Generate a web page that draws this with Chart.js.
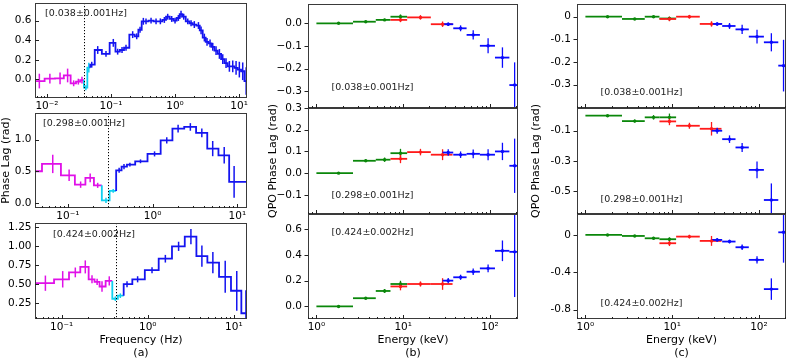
<!DOCTYPE html>
<html>
<head>
<meta charset="utf-8">
<script src="https://cdn.jsdelivr.net/npm/chart.js@4.4.1/dist/chart.umd.min.js"></script>
<style>
html,body{margin:0;padding:0;background:#fff;}
#wrap{position:relative;width:789px;height:360px;overflow:hidden;background:#fff;}
#wrap canvas{position:absolute;left:0;top:0;}
</style>
</head>
<body>
<div id="wrap"></div>
<script>
// ================= DATA =================
// ---- (a) phase lag vs frequency; split = [n magenta, n cyan], rest blue ----
const A1_QPO = 0.038;
const A1_NOTE = '[0.038±0.001Hz]';
const A1_freq = [0.0076,0.0111,0.0160,0.0210,0.0261,0.0309,0.0352,
  0.0405,0.0450,
  0.050,0.0620,0.0835,0.1086,0.127,0.1486,0.1715,0.218,0.252,0.284,0.32,0.352,0.422,0.505,0.590,0.681,0.768,0.887,1.0,1.127,
  1.24,1.366,1.58,1.78,2.0,2.32,2.55,2.87,3.16,3.52,3.88,4.37,4.93,5.56,6.26,7.06,7.96,8.98,10.1,11.4,12.9];
const A1_lag = [-0.017,0.007,0.01,0.04,-0.04,-0.023,-0.007,
  -0.085,0.12,
  0.15,0.30,0.26,0.373,0.283,0.30,0.323,0.457,0.44,0.507,0.593,0.593,0.60,0.593,0.593,0.607,0.64,0.617,0.60,0.627,
  0.667,0.64,0.593,0.573,0.56,0.55,0.50,0.427,0.383,0.367,0.333,0.293,0.26,0.207,0.167,0.133,0.133,0.117,0.10,0.083,-0.017];
const A1_err = [0.075,0.05,0.06,0.07,0.03,0.03,0.035,
  0.025,0.05,
  0.03,0.04,0.03,0.04,0.03,0.03,0.03,0.035,0.03,0.03,0.035,0.03,0.03,0.03,0.03,0.03,0.03,0.03,0.03,0.03,
  0.035,0.03,0.03,0.03,0.035,0.035,0.04,0.04,0.04,0.04,0.04,0.045,0.05,0.05,0.05,0.055,0.06,0.07,0.08,0.09,0.14];
const A1_split = [7, 2];

const A2_QPO = 0.298;
const A2_NOTE = '[0.298±0.001Hz]';
const A2_freq = [0.037,0.0664,0.1036,0.1416,0.1836,0.225, 0.282,0.343,
  0.403,0.46,0.54,0.72,1.055,1.47,2.0,2.79,3.81,5.12,7.0,9.16];
const A2_lag = [0.50,0.616,0.436,0.289,0.395,0.278, 0.04,0.19,
  0.515,0.573,0.605,0.657,0.774,0.989,1.174,1.20,1.106,0.858,0.752,0.332];
const A2_err = [0.03,0.145,0.09,0.05,0.07,0.04, 0.04,0.03,
  0.04,0.04,0.03,0.03,0.04,0.05,0.06,0.06,0.07,0.12,0.13,0.25];
const A2_split = [6, 2];

const A3_QPO = 0.424;
const A3_NOTE = '[0.424±0.002Hz]';
const A3_freq = [0.0647,0.1028,0.144,0.188,0.225,0.258,0.294,0.357, 0.42,0.48,
  0.574,0.762,1.12,1.60,2.28,3.17,4.25,5.70,7.93,10.8,13.8];
const A3_lag = [0.513,0.564,0.654,0.726,0.564,0.53,0.47,0.543, 0.31,0.35,
  0.50,0.564,0.683,0.833,0.995,1.123,0.867,0.782,0.597,0.414,0.12];
const A3_err = [0.10,0.107,0.064,0.085,0.053,0.04,0.07,0.06, 0.03,0.03,
  0.04,0.04,0.04,0.05,0.06,0.10,0.14,0.14,0.21,0.26,0.30];
const A3_split = [8, 2];

// ---- energy bins (keV) for (b) and (c) ----
const E_G = [1.8, 3.7, 6.1, 9.3];
const E_G_LO = [1.0, 2.64, 4.83, 7.13];
const E_G_HI = [2.64, 4.83, 7.13, 11.1];
const E_R = [9.3, 15.8, 28.4];
const E_R_LO = [7.13, 11.1, 20.8];
const E_R_HI = [11.1, 20.8, 37.0];
const E_B = [33, 45.8, 64, 95, 139, 192];
const E_B_LO = [28.4, 37.7, 53.7, 76.4, 114, 167];
const E_B_HI = [37.7, 53.7, 76.4, 114, 167, 230];

// ---- (b) QPO phase lag vs energy ----
const B1_G = [0.0, 0.007, 0.015, 0.029];     const B1_G_ERR = [0.003, 0.004, 0.005, 0.01];
const B1_R = [0.015, 0.026, -0.004];         const B1_R_ERR = [0.01, 0.01, 0.012];
const B1_B = [-0.004, -0.022, -0.051, -0.099, -0.151, -0.272]; const B1_B_ERR = [0.008, 0.013, 0.02, 0.033, 0.045, 0.1];
const B2_G = [0.0, 0.057, 0.062, 0.092];     const B2_G_ERR = [0.002, 0.006, 0.01, 0.02];
const B2_R = [0.066, 0.097, 0.085];          const B2_R_ERR = [0.02, 0.015, 0.025];
const B2_B = [0.095, 0.085, 0.089, 0.085, 0.10, 0.034]; const B2_B_ERR = [0.015, 0.015, 0.02, 0.025, 0.04, 0.125];
const B3_G = [0.0, 0.064, 0.12, 0.174];      const B3_G_ERR = [0.003, 0.008, 0.015, 0.025];
const B3_R = [0.155, 0.174, 0.174];          const B3_R_ERR = [0.03, 0.02, 0.045];
const B3_B = [0.20, 0.226, 0.269, 0.295, 0.431, 0.423]; const B3_B_ERR = [0.02, 0.02, 0.025, 0.03, 0.08, 0.35];

// ---- (c) QPO phase lag vs energy ----
const C1_G = [0.0, -0.010, 0.0, -0.008];     const C1_G_ERR = [0.002, 0.004, 0.005, 0.008];
const C1_R = [-0.010, 0.0, -0.032];          const C1_R_ERR = [0.01, 0.008, 0.012];
const C1_B = [-0.032, -0.041, -0.056, -0.088, -0.113, -0.216]; const C1_B_ERR = [0.008, 0.013, 0.02, 0.03, 0.04, 0.114];
const C2_G = [0.0, -0.036, -0.011, -0.011];  const C2_G_ERR = [0.003, 0.01, 0.015, 0.025];
const C2_R = [-0.038, -0.067, -0.087];       const C2_R_ERR = [0.025, 0.02, 0.045];
const C2_B = [-0.10, -0.156, -0.211, -0.36, -0.56]; const C2_B_ERR = [0.02, 0.025, 0.03, 0.055, 0.11];
const C3_G = [0.0, -0.011, -0.036, -0.046];  const C3_G_ERR = [0.003, 0.01, 0.015, 0.02];
const C3_R = [-0.089, -0.018, -0.064];       const C3_R_ERR = [0.03, 0.02, 0.053];
const C3_B = [-0.053, -0.071, -0.132, -0.267, -0.58, 0.028]; const C3_B_ERR = [0.02, 0.02, 0.03, 0.04, 0.115, 0.325];

// ---- tick values and labels ----
const A1_XT = [0.01, 0.1, 1, 10];  const A1_XL = ['10⁻²', '10⁻¹', '10⁰', '10¹'];
const A23_XT = [0.1, 1, 10];       const A23_XL = ['10⁻¹', '10⁰', '10¹'];
const E_XT = [1, 10, 100];         const E_XL = ['10⁰', '10¹', '10²'];
const A1_YT = [0, 0.2, 0.4, 0.6];  const A1_YL = ['0.0', '0.2', '0.4', '0.6'];
const A2_YT = [0, 0.5, 1.0];       const A2_YL = ['0.0', '0.5', '1.0'];
const A3_YT = [0.25, 0.5, 0.75, 1.0, 1.25]; const A3_YL = ['0.25', '0.50', '0.75', '1.00', '1.25'];
const B1_YT = [-0.3, -0.2, -0.1, 0]; const B1_YL = ['−0.3', '−0.2', '−0.1', '0.0'];
const B2_YT = [-0.1, 0, 0.1, 0.2, 0.3]; const B2_YL = ['−0.1', '0.0', '0.1', '0.2', '0.3'];
const B3_YT = [0, 0.2, 0.4, 0.6];  const B3_YL = ['0.0', '0.2', '0.4', '0.6'];
const C1_YT = [-0.3, -0.2, -0.1, 0]; const C1_YL = ['-0.3', '-0.2', '-0.1', '0'];
const C2_YT = [-0.5, -0.3, -0.1];  const C2_YL = ['-0.5', '-0.3', '-0.1'];
const C3_YT = [-0.8, -0.4, 0];     const C3_YL = ['-0.8', '-0.4', '0'];

// ================= RENDERING =================
Chart.defaults.font.family = "'DejaVu Sans', sans-serif";
Chart.defaults.font.size = 10.5;
Chart.defaults.color = '#000';

const W = 789, H = 360;
const STEP_COLORS = ['#e010e8', '#10d0f0', '#1414f0'];
const COL_G = '#0a870a', COL_R = '#ff1a1a', COL_B = '#0a0aff';

function stepSets(freq, lag, err, split, xmin, xmax) {
  const n = freq.length;
  const e = [xmin];
  for (let i = 1; i < n; i++) e.push(Math.sqrt(freq[i - 1] * freq[i]));
  e.push(xmax);
  const b = [0, split[0], split[0] + split[1], n];
  const sets = [];
  for (let g = 0; g < 3; g++) {
    const s = b[g], t = b[g + 1];
    if (t <= s) continue;
    const pts = [];
    if (s > 0) pts.push({x: e[s], y: lag[s - 1]});
    for (let i = s; i < t; i++) { pts.push({x: e[i], y: lag[i]}); pts.push({x: e[i + 1], y: lag[i]}); }
    sets.push({type: 'line', data: pts, borderColor: STEP_COLORS[g], borderWidth: 1.8, pointRadius: 0,
      tension: 0, fill: false, order: 3 - g,
      eb: {x: freq.slice(s, t), y: lag.slice(s, t), e: err.slice(s, t), c: STEP_COLORS[g]}});
  }
  return sets;
}

function energySet(E, lo, hi, lag, err, color, order) {
  const n = lag.length;
  return {type: 'scatter', data: lag.map((v, i) => ({x: E[i], y: v})), order,
    pointRadius: 1.7, pointBackgroundColor: color, pointBorderColor: color, pointBorderWidth: 0, showLine: false,
    eb: {x: E.slice(0, n), lo: lo.slice(0, n), hi: hi.slice(0, n), y: lag, e: err, c: color}};
}
function energySets(g, ge, r, re, bl, be) {
  return [energySet(E_G, E_G_LO, E_G_HI, g, ge, COL_G, 3),
          energySet(E_R, E_R_LO, E_R_HI, r, re, COL_R, 2),
          energySet(E_B, E_B_LO, E_B_HI, bl, be, COL_B, 1)];
}

const AX = [0.0065, 13.3], A2X = [0.041, 13.0], A3X = [0.049, 14.2], BX = [0.8, 210], CX = [0.8, 205];

const PANELS = [
  {area: [35, 3, 247, 98], xr: AX, yr: [-0.19, 0.78], xt: A1_XT, xl: A1_XL, yt: A1_YT, yl: A1_YL, yIn: true,
   qpo: A1_QPO, note: A1_NOTE, noteAt: [10, 11], sets: stepSets(A1_freq, A1_lag, A1_err, A1_split, AX[0], AX[1])},
  {area: [35, 113, 247, 208], xr: A2X, yr: [-0.08, 1.42], xt: A23_XT, xl: A23_XL, yt: A2_YT, yl: A2_YL, yIn: true,
   qpo: A2_QPO, note: A2_NOTE, noteAt: [8, 11], sets: stepSets(A2_freq, A2_lag, A2_err, A2_split, A2X[0], A2X[1]),
   titles: [{t: 'Phase Lag (rad)', x: 6, y: 160.5, rot: true}]},
  {area: [35, 223, 247, 319], xr: A3X, yr: [0.045, 1.30], xt: A23_XT, xl: A23_XL, yt: A3_YT, yl: A3_YL, yIn: true,
   qpo: A3_QPO, note: A3_NOTE, noteAt: [18, 11.5], sets: stepSets(A3_freq, A3_lag, A3_err, A3_split, A3X[0], A3X[1]),
   titles: [{t: 'Frequency (Hz)', x: 141, y: 340.5}, {t: '(a)', x: 141, y: 353.5}]},
  {area: [308, 4, 518, 108], xr: BX, yr: [-0.373, 0.085], xt: E_XT, xl: null, yt: B1_YT, yl: B1_YL, yIn: false,
   note: A1_NOTE, noteAt: [23.5, 84], sets: energySets(B1_G, B1_G_ERR, B1_R, B1_R_ERR, B1_B, B1_B_ERR)},
  {area: [308, 108, 518, 214], xr: BX, yr: [-0.188, 0.30], xt: E_XT, xl: null, yt: B2_YT, yl: B2_YL, yIn: false,
   note: A2_NOTE, noteAt: [23.5, 87.5], sets: energySets(B2_G, B2_G_ERR, B2_R, B2_R_ERR, B2_B, B2_B_ERR),
   titles: [{t: 'QPO Phase Lag (rad)', x: 273, y: 161, rot: true}]},
  {area: [308, 214, 518, 319], xr: BX, yr: [-0.097, 0.716], xt: E_XT, xl: E_XL, yt: B3_YT, yl: B3_YL, yIn: false,
   note: A3_NOTE, noteAt: [23.5, 19], sets: energySets(B3_G, B3_G_ERR, B3_R, B3_R_ERR, B3_B, B3_B_ERR),
   titles: [{t: 'Energy (keV)', x: 413, y: 340.5}, {t: '(b)', x: 413, y: 353.5}]},
  {area: [577, 4, 786, 108], xr: CX, yr: [-0.403, 0.056], xt: E_XT, xl: null, yt: C1_YT, yl: C1_YL, yIn: false,
   note: A1_NOTE, noteAt: [23.5, 89], sets: energySets(C1_G, C1_G_ERR, C1_R, C1_R_ERR, C1_B, C1_B_ERR)},
  {area: [577, 108, 786, 214], xr: CX, yr: [-0.653, 0.051], xt: E_XT, xl: null, yt: C2_YT, yl: C2_YL, yIn: false,
   note: A2_NOTE, noteAt: [23.5, 92], sets: energySets(C2_G, C2_G_ERR, C2_R, C2_R_ERR, C2_B, C2_B_ERR),
   titles: [{t: 'QPO Phase Lag (rad)', x: 536, y: 161, rot: true}]},
  {area: [577, 214, 786, 319], xr: CX, yr: [-0.9, 0.224], xt: E_XT, xl: E_XL, yt: C3_YT, yl: C3_YL, yIn: false,
   note: A3_NOTE, noteAt: [23.5, 89.7], sets: energySets(C3_G, C3_G_ERR, C3_R, C3_R_ERR, C3_B, C3_B_ERR),
   titles: [{t: 'Energy (keV)', x: 681.5, y: 340.5}, {t: '(c)', x: 681.5, y: 353.5}]}
];

function line(ctx, x1, y1, x2, y2) { ctx.beginPath(); ctx.moveTo(x1, y1); ctx.lineTo(x2, y2); ctx.stroke(); }

function makeDeco(p) {
  return {
    id: 'deco',
    beforeDatasetsDraw(chart) {
      const {ctx, chartArea: a} = chart, xs = chart.scales.x, ys = chart.scales.y;
      ctx.save();
      ctx.beginPath(); ctx.rect(a.left, a.top, a.right - a.left, a.bottom - a.top); ctx.clip();
      const sets = chart.data.datasets.slice().sort((u, v) => v.order - u.order);
      for (const ds of sets) {
        const eb = ds.eb; if (!eb) continue;
        ctx.strokeStyle = eb.c;
        for (let i = 0; i < eb.x.length; i++) {
          const px = xs.getPixelForValue(eb.x[i]);
          const py = ys.getPixelForValue(eb.y[i]);
          if (eb.lo) {
            ctx.lineWidth = 1.8;
            line(ctx, xs.getPixelForValue(eb.lo[i]), py, xs.getPixelForValue(eb.hi[i]), py);
          }
          ctx.lineWidth = eb.lo ? 1.3 : 1.5;
          line(ctx, px, ys.getPixelForValue(eb.y[i] - eb.e[i]), px, ys.getPixelForValue(eb.y[i] + eb.e[i]));
        }
      }
      ctx.restore();
    },
    afterDatasetsDraw(chart) {
      const {ctx, chartArea: a} = chart, xs = chart.scales.x, ys = chart.scales.y;
      ctx.save();
      if (p.qpo) {
        ctx.strokeStyle = '#000'; ctx.lineWidth = 1; ctx.setLineDash([1.2, 1.8]);
        const qx = Math.round(xs.getPixelForValue(p.qpo)) + 0.5;
        line(ctx, qx, a.top, qx, a.bottom);
        ctx.setLineDash([]);
      }
      ctx.strokeStyle = '#3a3a3a'; ctx.lineWidth = 1;
      ctx.strokeRect(a.left + 0.5, a.top + 0.5, a.right - a.left - 1, a.bottom - a.top - 1);
      ctx.strokeStyle = '#222';
      const lo = Math.floor(Math.log10(p.xr[0])), hi = Math.ceil(Math.log10(p.xr[1]));
      for (let d = lo; d <= hi; d++) {
        for (let k = 1; k <= 9; k++) {
          const v = k * Math.pow(10, d);
          if (v < p.xr[0] || v > p.xr[1]) continue;
          const px = Math.round(xs.getPixelForValue(v)) + 0.5;
          const len = k === 1 ? 4 : 2;
          line(ctx, px, a.bottom, px, a.bottom - len);
        }
      }
      for (const v of p.yt) {
        const py = Math.round(ys.getPixelForValue(v)) + 0.5;
        if (p.yIn) line(ctx, a.left, py, a.left + 4, py);
        else line(ctx, a.left - 3.5, py, a.left, py);
      }
      ctx.fillStyle = '#222';
      ctx.font = "9.5px 'DejaVu Sans', sans-serif";
      ctx.textAlign = 'left'; ctx.textBaseline = 'middle';
      ctx.fillText(p.note, a.left + p.noteAt[0], a.top + p.noteAt[1]);
      if (p.titles) {
        ctx.fillStyle = '#000';
        ctx.font = "11px 'DejaVu Sans', sans-serif";
        ctx.textAlign = 'center';
        for (const t of p.titles) {
          ctx.save();
          ctx.translate(t.x, t.y);
          if (t.rot) ctx.rotate(-Math.PI / 2);
          ctx.fillText(t.t, 0, 0);
          ctx.restore();
        }
      }
      ctx.restore();
    }
  };
}

const wrap = document.getElementById('wrap');
const XH = 20;
for (const p of PANELS) {
  const c = document.createElement('canvas');
  c.width = W; c.height = H; c.style.width = W + 'px'; c.style.height = H + 'px';
  wrap.appendChild(c);
  const [L, T, R, B] = p.area;
  const YW = p.yIn ? 32 : 44;
  new Chart(c, {
    type: 'scatter',
    data: {datasets: p.sets},
    options: {
      responsive: false, animation: false, devicePixelRatio: 1, events: [],
      layout: {autoPadding: false, padding: {left: L - YW, top: T, right: W - R, bottom: H - B - XH}},
      plugins: {legend: {display: false}, tooltip: {enabled: false}},
      scales: {
        x: {type: 'logarithmic', min: p.xr[0], max: p.xr[1],
          grid: {display: false, drawTicks: false}, border: {display: false},
          afterBuildTicks: s => { s.ticks = p.xt.map(v => ({value: v})); },
          afterFit: s => { s.height = XH; s.paddingLeft = 0; s.paddingRight = 0; s.paddingTop = 0; s.paddingBottom = 0; },
          ticks: {display: !!p.xl, autoSkip: false, maxRotation: 0, padding: 2,
                  callback: (v, i) => (p.xl ? p.xl[i] : '')}},
        y: {type: 'linear', min: p.yr[0], max: p.yr[1],
          grid: {display: false, drawTicks: false}, border: {display: false},
          afterBuildTicks: s => { s.ticks = p.yt.map(v => ({value: v})); },
          afterFit: s => { s.width = YW; s.paddingTop = 0; s.paddingBottom = 0; s.paddingLeft = 0; s.paddingRight = 0; },
          ticks: {autoSkip: false, padding: p.yIn ? 3.5 : 6, callback: (v, i) => p.yl[i]}}
      }
    },
    plugins: [makeDeco(p)]
  });
}
</script>
</body>
</html>
